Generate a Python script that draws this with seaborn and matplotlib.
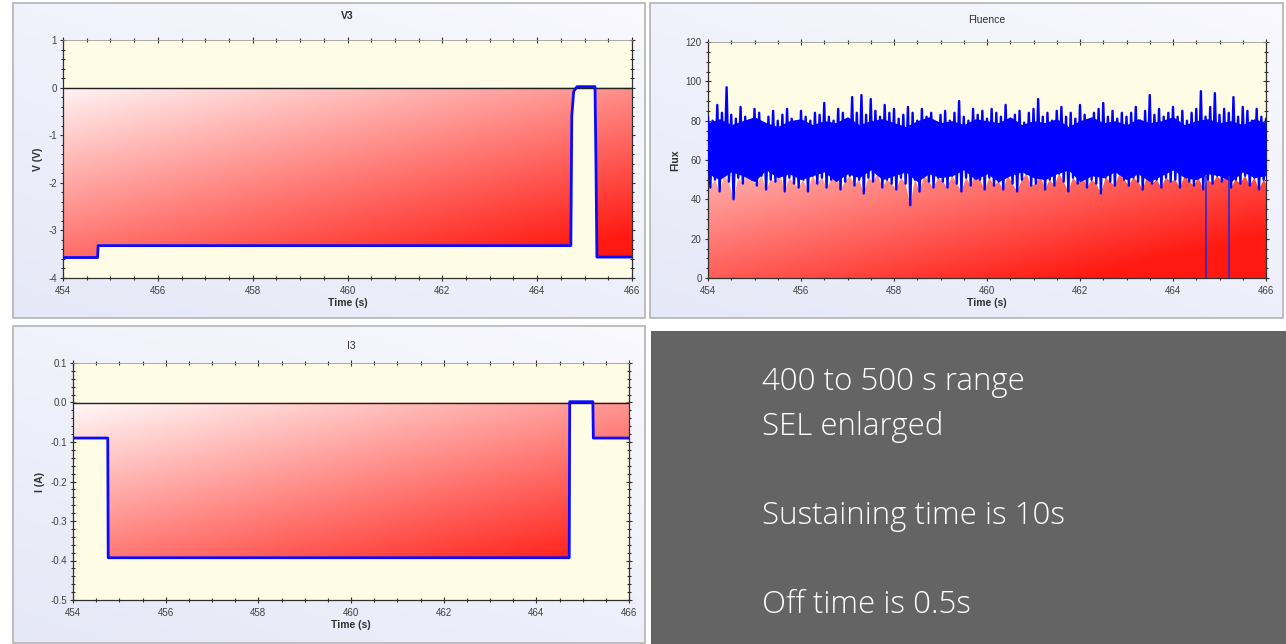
import numpy as np
import matplotlib
matplotlib.use('Agg')
import matplotlib.pyplot as plt
import seaborn as sns
from matplotlib.path import Path
from matplotlib.patches import Rectangle
from matplotlib.ticker import MultipleLocator, FormatStrFormatter

sns.set_theme(style='white')
plt.rcParams['font.family'] = ['Liberation Sans', 'DejaVu Sans']

# ---------------- data ----------------
x_ticks = [454, 456, 458, 460, 462, 464, 466]

v3_time = [454.0, 454.73, 454.74, 464.71, 464.73, 464.77, 464.84, 465.22, 465.24, 465.26, 466.0]
v3_volt = [-3.57, -3.57, -3.32, -3.32, -0.6, -0.08, 0.02, 0.02, -1.6, -3.56, -3.56]

i3_time = [454.0, 454.75, 454.76, 464.71, 464.72, 465.22, 465.23, 466.0]
i3_curr = [-0.090, -0.090, -0.393, -0.393, 0.002, 0.002, -0.090, -0.090]

# fluence envelope sampled every 0.1 s from 454.0 to 466.0
fluence_t0 = 454.0
fluence_dt = 0.1
fluence_upper = [
    82, 80, 88, 84, 97, 83, 81, 87, 82, 80,
    86, 84, 78, 82, 85, 80, 83, 86, 81, 79,
    85, 82, 80, 84, 83, 89, 82, 80, 86, 84,
    80, 92, 84, 93, 83, 91, 85, 82, 88, 84,
    86, 81, 83, 87, 84, 80, 86, 82, 84, 79,
    83, 85, 80, 84, 90, 82, 80, 86, 83, 85,
    81, 86, 84, 82, 88, 80, 83, 85, 79, 84,
    86, 91, 82, 84, 80, 85, 87, 82, 84, 81,
    88, 83, 80, 84, 86, 89, 82, 85, 81, 84,
    82, 84, 87, 80, 85, 93, 83, 86, 82, 84,
    87, 82, 85, 80, 84, 86, 95, 82, 87, 94,
    83, 86, 84, 92, 82, 87, 85, 80, 86, 82,
    81]
fluence_lower = [
    46, 50, 44, 52, 49, 40, 51, 48, 53, 50,
    47, 52, 45, 50, 49, 53, 44, 51, 48, 46,
    50, 44, 52, 48, 51, 46, 50, 53, 45, 49,
    52, 47, 50, 43, 51, 49, 53, 46, 50, 48,
    45, 51, 48, 37, 50, 44, 52, 49, 46, 51,
    49, 46, 52, 48, 44, 51, 47, 53, 50, 45,
    51, 47, 49, 45, 52, 48, 44, 50, 53, 47,
    48, 52, 45, 50, 47, 53, 49, 44, 51, 48,
    52, 46, 50, 48, 43, 51, 49, 47, 53, 50,
    47, 51, 49, 45, 52, 48, 50, 46, 51, 49,
    50, 46, 52, 49, 47, 51, 45, 50, 48, 52,
    49, 53, 46, 50, 48, 52, 47, 51, 45, 50,
    48]
# solid part of the band, sampled every 0.25 s
fluence_core_dt = 0.25
fluence_core_high = [79, 81, 78, 80, 82, 79, 77, 80, 81, 78, 80, 79, 82, 78, 80, 81, 79,
                     77, 80, 82, 79, 80, 78, 81, 80, 79, 82, 78, 80, 79, 81, 77, 80, 82,
                     79, 80, 78, 81, 79, 80, 82, 78, 80, 81, 79, 80, 78, 81, 79]
fluence_core_low = [53, 50, 54, 52, 49, 55, 51, 53, 50, 52, 54, 49, 53, 51, 55, 50, 52,
                    54, 49, 53, 51, 52, 55, 50, 53, 49, 52, 54, 51, 50, 53, 55, 49, 52,
                    51, 54, 50, 53, 49, 52, 55, 51, 50, 53, 52, 49, 54, 51, 52]
fluence_drop_time = [464.70, 465.21]
fluence_drop_top = [52, 52]

note_lines = ["400 to 500 s range", "SEL enlarged", "Sustaining time is 10s", "Off time is 0.5s"]

# ---------------- layout helpers ----------------
W, H = 1286, 644
fig = plt.figure(figsize=(W / 100, H / 100), dpi=100)
fig.patch.set_facecolor('white')


def rect(x0, y0, x1, y1):
    return [x0 / W, 1 - y1 / H, (x1 - x0) / W, (y1 - y0) / H]


def frame(x0, y0, x1, y1):
    a = fig.add_axes(rect(x0, y0, x1, y1))
    u = np.linspace(0, 1, 64)[None, :]
    v = np.linspace(0, 1, 64)[:, None]
    t = np.clip(0.6 * v + 0.4 * (1 - u), 0, 1)
    top = np.array([0.975, 0.975, 0.995])
    bot = np.array([0.90, 0.91, 0.97])
    img = top[None, None, :] * (1 - t[..., None]) + bot[None, None, :] * t[..., None]
    a.imshow(img, extent=[0, 1, 0, 1], aspect='auto', origin='upper')
    a.set_xlim(0, 1)
    a.set_ylim(0, 1)
    a.axis('off')
    a.add_patch(Rectangle((0, 0), 1, 1, transform=a.transAxes, fill=False,
                          edgecolor='#b4b4b4', lw=1.2, clip_on=False))
    return a


def red_gradient(ax, poly, xlim, ylim):
    h, w = 300, 600
    u = np.linspace(0, 1, w)[None, :]
    v = np.linspace(0, 1, h)[:, None]
    s = np.clip(0.44 * u + 0.82 * v - 0.114, 0, 1)
    img = np.dstack([np.ones_like(s), 1 - 0.90 * s, 1 - 0.93 * s])
    im = ax.imshow(img, extent=[xlim[0], xlim[1], ylim[0], ylim[1]],
                   aspect='auto', origin='upper', zorder=1, interpolation='bilinear')
    path = Path.make_compound_path(*poly.get_paths())
    im.set_clip_path(path, transform=ax.transData)
    poly.remove()


def style_axes(ax, xlim, ylim, ymaj, ymin, yfmt, ylabel, title, pad, tweight):
    ax.set_facecolor('#fefce4')
    ax.set_xlim(*xlim)
    ax.set_ylim(*ylim)
    ax.set_xticks(x_ticks)
    ax.xaxis.set_minor_locator(MultipleLocator(0.5))
    ax.yaxis.set_major_locator(MultipleLocator(ymaj))
    ax.yaxis.set_minor_locator(MultipleLocator(ymin))
    ax.yaxis.set_major_formatter(FormatStrFormatter(yfmt))
    ax.tick_params(which='both', direction='inout', top=True, right=True,
                   bottom=True, left=True, colors='#303030', labelcolor='#404040',
                   labelsize=7, width=0.8)
    ax.tick_params(which='major', length=5, pad=2)
    ax.tick_params(which='minor', length=2.5)
    ax.tick_params(axis='x', pad=3)
    for side in ['left', 'right', 'bottom']:
        ax.spines[side].set_color('#303030')
        ax.spines[side].set_linewidth(0.9)
        ax.spines[side].set_visible(True)
    ax.spines['top'].set_color('#9a9a9a')
    ax.spines['top'].set_linewidth(0.6)
    ax.set_xlabel('Time (s)', fontsize=7.5, fontweight='bold', color='#303030', labelpad=2)
    ax.set_ylabel(ylabel, fontsize=7.5, fontweight='bold', color='#303030', labelpad=4)
    ax.set_title(title, fontsize=7.5, color='#303030', pad=pad, fontweight=tweight)


# ---------------- frames ----------------
frame(13, 3, 645, 318)
frame(650, 3, 1283, 318)
frame(13, 326, 645, 643)

# grey note box
nb = fig.add_axes(rect(651, 331, 1286, 644))
nb.set_facecolor('#646464')
nb.set_xticks([])
nb.set_yticks([])
for s in nb.spines.values():
    s.set_visible(False)

# ---------------- V3 ----------------
ax1 = fig.add_axes(rect(63, 40, 632, 278))
xl = (454, 466)
yl1 = (-4, 1)
p = ax1.fill_between(v3_time, np.minimum(v3_volt, 0), 0, color='none', lw=0)
red_gradient(ax1, p, xl, yl1)
ax1.axhline(0, color='#202020', lw=1.0, zorder=3)
sns.lineplot(x=v3_time, y=v3_volt, ax=ax1, color='#0a0aff', lw=2.0,
             estimator=None, sort=False, zorder=4)
style_axes(ax1, xl, yl1, 1, 0.2, '%g', 'V (V)', 'V3', 15, 'bold')

# ---------------- Fluence ----------------
ax2 = fig.add_axes(rect(708, 42, 1266, 278))
yl2 = (0, 120)
n = len(fluence_upper)
t_up = [fluence_t0 + fluence_dt * i for i in range(n)]
t_lo = [fluence_t0 + fluence_dt * i + fluence_dt / 2 for i in range(n - 1)]
t_lo_full = [fluence_t0] + t_lo + [fluence_t0 + fluence_dt * (n - 1)]
lo_full = [fluence_lower[0]] + fluence_lower[:n - 1] + [fluence_lower[-1]]
p2 = ax2.fill_between(t_lo_full, lo_full, 0, color='none', lw=0)
red_gradient(ax2, p2, xl, yl2)
core_t = [fluence_t0 + fluence_core_dt * i for i in range(len(fluence_core_high))]
ax2.fill_between(core_t, fluence_core_low, fluence_core_high,
                 color='#0000ff', lw=0, zorder=3)
zig_t, zig_y = [], []
for i in range(n):
    zig_t.append(t_up[i])
    zig_y.append(fluence_upper[i])
    if i < n - 1:
        zig_t.append(t_lo[i])
        zig_y.append(fluence_lower[i])
sns.lineplot(x=zig_t, y=zig_y, ax=ax2, color='#0000ff', lw=1.7,
             estimator=None, sort=False, zorder=4)
ax2.vlines(fluence_drop_time, 0, fluence_drop_top, color='#2a2ad0', lw=1.2, zorder=4)
style_axes(ax2, xl, yl2, 20, 5, '%g', 'Flux', 'Fluence', 14, 'normal')

# ---------------- I3 ----------------
ax3 = fig.add_axes(rect(73, 363, 629, 600))
yl3 = (-0.5, 0.1)
p3 = ax3.fill_between(i3_time, np.minimum(i3_curr, 0), 0, color='none', lw=0)
red_gradient(ax3, p3, xl, yl3)
ax3.axhline(0, color='#202020', lw=1.0, zorder=3)
sns.lineplot(x=i3_time, y=i3_curr, ax=ax3, color='#0a0aff', lw=2.0,
             estimator=None, sort=False, zorder=4)
style_axes(ax3, xl, yl3, 0.1, 0.02, '%.1f', 'I (A)', 'I3', 10, 'normal')

# ---------------- note text ----------------
baselines = [390, 435, 524, 613]
for txt, yb in zip(note_lines, baselines):
    fig.text(762 / W, 1 - yb / H, txt, color='white', fontsize=22.5,
             family=['Open Sans', 'Lato', 'DejaVu Sans'], fontweight='light',
             ha='left', va='baseline')

fig.savefig('out.png', dpi=100)
